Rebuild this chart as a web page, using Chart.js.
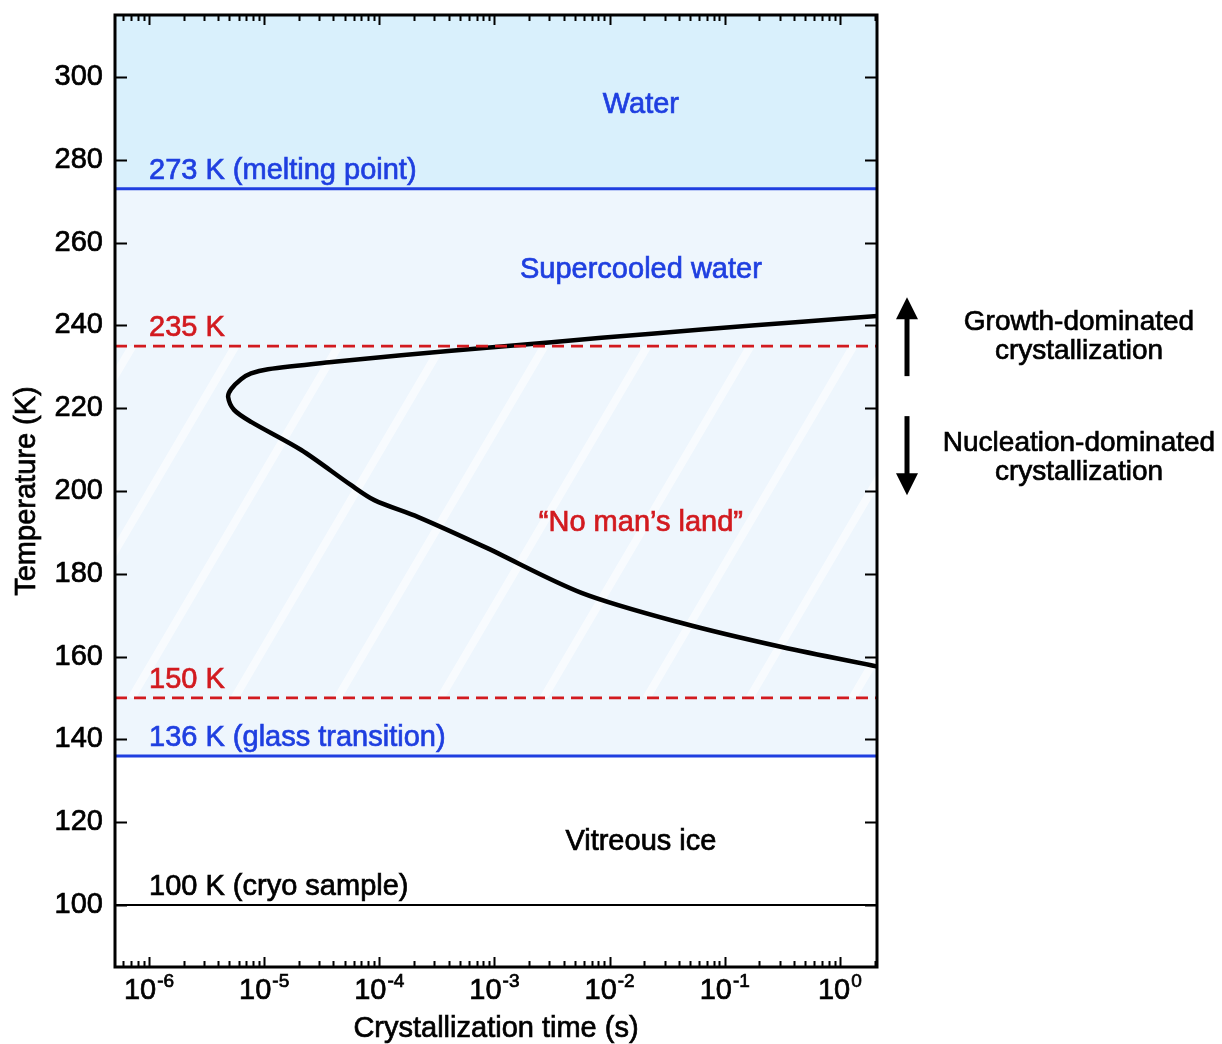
<!DOCTYPE html>
<html>
<head>
<meta charset="utf-8">
<script src="https://cdn.jsdelivr.net/npm/chart.js@4.4.0/dist/chart.umd.min.js"></script>
<style>
  html, body { margin: 0; padding: 0; background: #fff; }
  #wrap { width: 1222px; height: 1044px; }
</style>
</head>
<body>
<div id="wrap"><canvas id="chart" width="1222" height="1044"></canvas></div>
<script>
// boundary curve: top branch from the right, round the nose, lower branch back out
const curveTime = [2.2, 0.47, 0.063, 8.5e-3, 1.15e-3, 1.55e-4, 4.06e-5, 1.08e-5, 7.7e-6, 6.3e-6, 5.17e-6, 4.87e-6,
                   5.48e-6, 7.7e-6, 2.1e-5, 5.7e-5, 9.06e-5, 2.18e-4, 8.2e-4, 5.7e-3, 0.0423, 0.313, 2.2];
const curveTemp = [242.3, 240.9, 239.0, 237.0, 234.9, 232.8, 231.2, 229.4, 228.4, 227.0, 224.6, 222.7,
                   219.6, 216.7, 209.9, 201.4, 197.8, 193.7, 186.5, 175.4, 168.1, 162.3, 157.5];

// horizontal reference temperatures (K)
const lineTemps = [273, 235, 150, 136, 100];
const lineLabels = ['273 K (melting point)', '235 K', '150 K', '136 K (glass transition)', '100 K (cryo sample)'];

// region names
const regionNames = ['Water', 'Supercooled water', '\u201cNo man\u2019s land\u201d', 'Vitreous ice'];

// tick labels
const xDecades = [-6, -5, -4, -3, -2, -1, 0];
const yTicks = [100, 120, 140, 160, 180, 200, 220, 240, 260, 280, 300];

const X_MIN = 5.07e-7, X_MAX = 2.1;
const Y_MIN = 85, Y_MAX = 315;

const FONT = "'Liberation Sans', Arial, Helvetica, sans-serif";
const BLUE = '#1f3fe0';
const RED = '#d21a1f';

const lineStyles = [
  { color: BLUE, width: 3, dash: [] },
  { color: RED, width: 2.8, dash: [12, 7] },
  { color: RED, width: 2.8, dash: [12, 7] },
  { color: BLUE, width: 3, dash: [] },
  { color: '#000', width: 2, dash: [] }
];
const labelColors = [BLUE, RED, RED, BLUE, '#000'];

const datasets = lineTemps.map((t, i) => ({
  data: [{ x: X_MIN, y: t }, { x: X_MAX, y: t }],
  showLine: true,
  borderColor: lineStyles[i].color,
  borderWidth: lineStyles[i].width,
  borderDash: lineStyles[i].dash,
  pointRadius: 0
}));
datasets.push({
  data: curveTime.map((t, i) => ({ x: t, y: curveTemp[i] })),
  showLine: true,
  borderColor: '#000',
  borderWidth: 4.5,
  tension: 0.3,
  pointRadius: 0,
  borderCapStyle: 'round',
  borderJoinStyle: 'round'
});

// text with a thin outline so it reads as heavy as the original
function say(ctx, s, x, y, color) {
  ctx.fillStyle = color;
  ctx.strokeStyle = color;
  ctx.lineWidth = 0.7;
  ctx.fillText(s, x, y);
  ctx.strokeText(s, x, y);
}

const diagram = {
  id: 'diagram',
  beforeDatasetsDraw(chart) {
    const { ctx, chartArea: a, scales: { y } } = chart;
    const yTop = y.getPixelForValue(Y_MAX);
    const y273 = y.getPixelForValue(lineTemps[0]);
    const y235 = y.getPixelForValue(lineTemps[1]);
    const y150 = y.getPixelForValue(lineTemps[2]);
    const y136 = y.getPixelForValue(lineTemps[3]);
    ctx.save();
    ctx.fillStyle = '#d9f0fc';
    ctx.fillRect(a.left, yTop, a.right - a.left, y273 - yTop);
    ctx.fillStyle = '#eef6fd';
    ctx.fillRect(a.left, y273, a.right - a.left, y136 - y273);
    // white diagonal hatching in the no man's land band
    ctx.beginPath();
    ctx.rect(a.left, y235, a.right - a.left, y150 - y235);
    ctx.clip();
    ctx.strokeStyle = 'rgba(255,255,255,0.6)';
    ctx.lineWidth = 8;
    const slope = 1.7, gap = 103, refY = 357, refX = a.left + 11;
    for (let k = -6; k < 12; k++) {
      const x0 = refX + k * gap;
      ctx.beginPath();
      ctx.moveTo(x0 + (refY - y150) / slope, y150);
      ctx.lineTo(x0 + (refY - y235) / slope, y235);
      ctx.stroke();
    }
    ctx.restore();
  },
  afterDraw(chart) {
    const { ctx, chartArea: a, scales: { x, y } } = chart;
    ctx.save();
    ctx.strokeStyle = '#000';
    ctx.lineWidth = 2;
    // log ticks top and bottom, pointing inwards
    for (let e = -7; e <= 0; e++) {
      for (let m = 1; m <= 9; m++) {
        const v = m * Math.pow(10, e);
        if (v < X_MIN || v > X_MAX) continue;
        const px = Math.round(x.getPixelForValue(v)) + 0.5;
        const len = m === 1 ? 10 : 6;
        ctx.beginPath();
        ctx.moveTo(px, a.bottom); ctx.lineTo(px, a.bottom - len);
        ctx.moveTo(px, a.top); ctx.lineTo(px, a.top + len);
        ctx.stroke();
      }
    }
    yTicks.forEach(v => {
      const py = Math.round(y.getPixelForValue(v)) + 0.5;
      ctx.beginPath();
      ctx.moveTo(a.left, py); ctx.lineTo(a.left + 12, py);
      ctx.moveTo(a.right, py); ctx.lineTo(a.right - 12, py);
      ctx.stroke();
    });
    // frame
    ctx.lineWidth = 3;
    ctx.strokeRect(a.left, a.top, a.right - a.left, a.bottom - a.top);

    // x tick labels as 10 with raised exponent
    ctx.textBaseline = 'alphabetic';
    xDecades.forEach(e => {
      const px = x.getPixelForValue(Math.pow(10, e));
      ctx.font = '29px ' + FONT;
      const base = '10';
      const wb = ctx.measureText(base).width;
      ctx.font = '19px ' + FONT;
      const ex = String(e);
      const we = ctx.measureText(ex).width;
      const left = px - (wb + we + 1) / 2;
      ctx.font = '29px ' + FONT;
      ctx.textAlign = 'left';
      say(ctx, base, left, a.bottom + 32, '#000');
      ctx.font = '19px ' + FONT;
      say(ctx, ex, left + wb + 1, a.bottom + 20, '#000');
    });

    // axis titles
    ctx.font = '29px ' + FONT;
    ctx.textAlign = 'center';
    ctx.textBaseline = 'middle';
    say(ctx, 'Crystallization time (s)', (a.left + a.right) / 2, a.bottom + 62, '#000');
    ctx.save();
    ctx.translate(27, (a.top + a.bottom) / 2);
    ctx.rotate(-Math.PI / 2);
    say(ctx, 'Temperature (K)', 0, 0, '#000');
    ctx.restore();

    // labels above the reference lines
    ctx.textAlign = 'left';
    ctx.textBaseline = 'alphabetic';
    lineTemps.forEach((t, i) => {
      say(ctx, lineLabels[i], a.left + 34, y.getPixelForValue(t) - 10, labelColors[i]);
    });

    // region names
    const cx = x.getPixelForValue(0.0187);
    const regionAt = [293.3, 253.3, 192.3, 115.2];
    const regionColors = [BLUE, BLUE, RED, '#000'];
    ctx.textAlign = 'center';
    ctx.textBaseline = 'middle';
    regionNames.forEach((n, i) => {
      say(ctx, n, cx, y.getPixelForValue(regionAt[i]), regionColors[i]);
    });

    // right-hand notes with arrows
    const y235 = y.getPixelForValue(lineTemps[1]);
    const ax = a.right + 30;
    const tx = a.right + 202;
    ctx.font = '28px ' + FONT;
    say(ctx, 'Growth-dominated', tx, y235 - 24, '#000');
    say(ctx, 'crystallization', tx, y235 + 5, '#000');
    say(ctx, 'Nucleation-dominated', tx, y235 + 97, '#000');
    say(ctx, 'crystallization', tx, y235 + 126, '#000');
    const arrow = (yFrom, yTip) => {
      const dir = Math.sign(yTip - yFrom);
      ctx.strokeStyle = '#000';
      ctx.fillStyle = '#000';
      ctx.lineWidth = 5;
      ctx.beginPath();
      ctx.moveTo(ax, yFrom); ctx.lineTo(ax, yTip - dir * 18);
      ctx.stroke();
      ctx.beginPath();
      ctx.moveTo(ax, yTip);
      ctx.lineTo(ax - 11, yTip - dir * 22);
      ctx.lineTo(ax + 11, yTip - dir * 22);
      ctx.closePath();
      ctx.fill();
    };
    arrow(y235 + 30, y235 - 49);
    arrow(y235 + 70, y235 + 149);
    ctx.restore();
  }
};

const ctx = document.getElementById('chart').getContext('2d');
new Chart(ctx, {
  type: 'scatter',
  data: { datasets },
  options: {
    responsive: false,
    animation: false,
    layout: { padding: { top: 15, right: 345, left: 0, bottom: 0 } },
    plugins: { legend: { display: false }, tooltip: { enabled: false } },
    scales: {
      x: {
        type: 'logarithmic',
        min: X_MIN,
        max: X_MAX,
        position: 'bottom',
        grid: { display: false, drawTicks: false },
        border: { display: false },
        ticks: { display: false },
        afterBuildTicks: s => { s.ticks = xDecades.map(e => ({ value: Math.pow(10, e) })); },
        afterFit: s => { s.height = 77; s.paddingLeft = 0; s.paddingRight = 0; }
      },
      y: {
        min: Y_MIN,
        max: Y_MAX,
        grid: { display: false, drawTicks: false },
        border: { display: false },
        afterBuildTicks: s => { s.ticks = yTicks.map(v => ({ value: v })); },
        afterFit: s => { s.width = 115; s.paddingTop = 0; s.paddingBottom = 0; },
        ticks: {
          color: '#000',
          font: { family: FONT, size: 29 },
          padding: 12,
          textStrokeColor: '#000',
          textStrokeWidth: 0.7
        }
      }
    }
  },
  plugins: [diagram]
});
</script>
</body>
</html>
